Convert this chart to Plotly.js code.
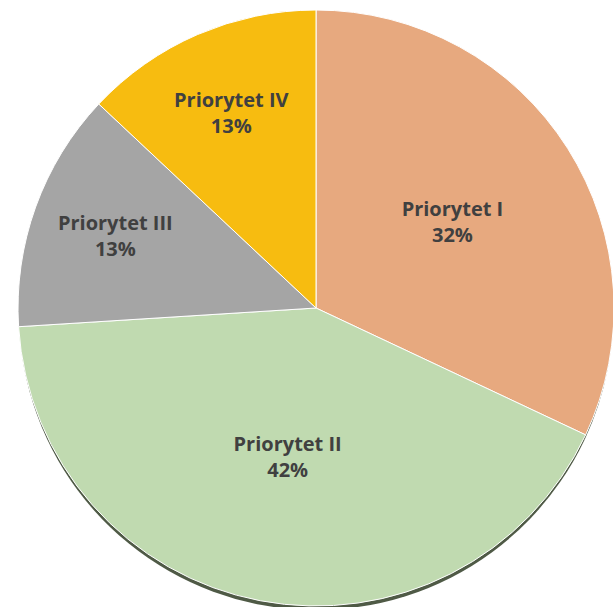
<!DOCTYPE html>
<html>
<head>
<meta charset="utf-8">
<script src="https://cdn.plot.ly/plotly-3.0.1.min.js"></script>
<style>
  html, body { margin: 0; padding: 0; overflow: hidden; background: #fff; }
  #chart { width: 640px; height: 610px; }
</style>
</head>
<body>
<div id="chart"></div>
<script>
// Slice data (clockwise from 12 o'clock)
const labels = ["Priorytet I", "Priorytet II", "Priorytet III", "Priorytet IV"];
const values = [32, 42, 13, 13];
const sliceColors = ["#E7A97F", "#C0DAB0", "#A5A5A5", "#F7BC10"];

const W = 640, H = 610;
const cx = 316, cy = 308, r = 298; // pie centre / radius in px
const shadowDrop = 6;

function domainFor(dy) {
    return {
        x: [(cx - r) / W, (cx + r) / W],
        y: [(H - cy - dy - r) / H, (H - cy - dy + r) / H]
    };
}

// dark shadow under the pie
const shadow = {
    type: "pie",
    labels: labels,
    values: values,
    sort: false,
    direction: "clockwise",
    rotation: 0,
    domain: domainFor(shadowDrop),
    marker: { colors: labels.map(() => "#4F5A46"), line: { width: 0 } },
    textinfo: "none",
    hoverinfo: "skip",
    showlegend: false
};

const pie = {
    type: "pie",
    labels: labels,
    values: values,
    sort: false,
    direction: "clockwise",
    rotation: 0,
    domain: domainFor(0),
    marker: { colors: sliceColors, line: { color: "#ffffff", width: 1 } },
    texttemplate: "<b>%{label}</b><br><b>%{percent:.0%}</b>",
    textposition: "inside",
    insidetextorientation: "horizontal",
    textfont: { family: "Open Sans, Lato, sans-serif", size: 20, color: "#404040" },
    hoverinfo: "label+percent",
    showlegend: false
};

Plotly.newPlot("chart", [shadow, pie], {
    width: W,
    height: H,
    margin: { l: 0, r: 0, t: 0, b: 0 },
    paper_bgcolor: "#ffffff",
    showlegend: false
}, { displayModeBar: false, staticPlot: true });
</script>
</body>
</html>
